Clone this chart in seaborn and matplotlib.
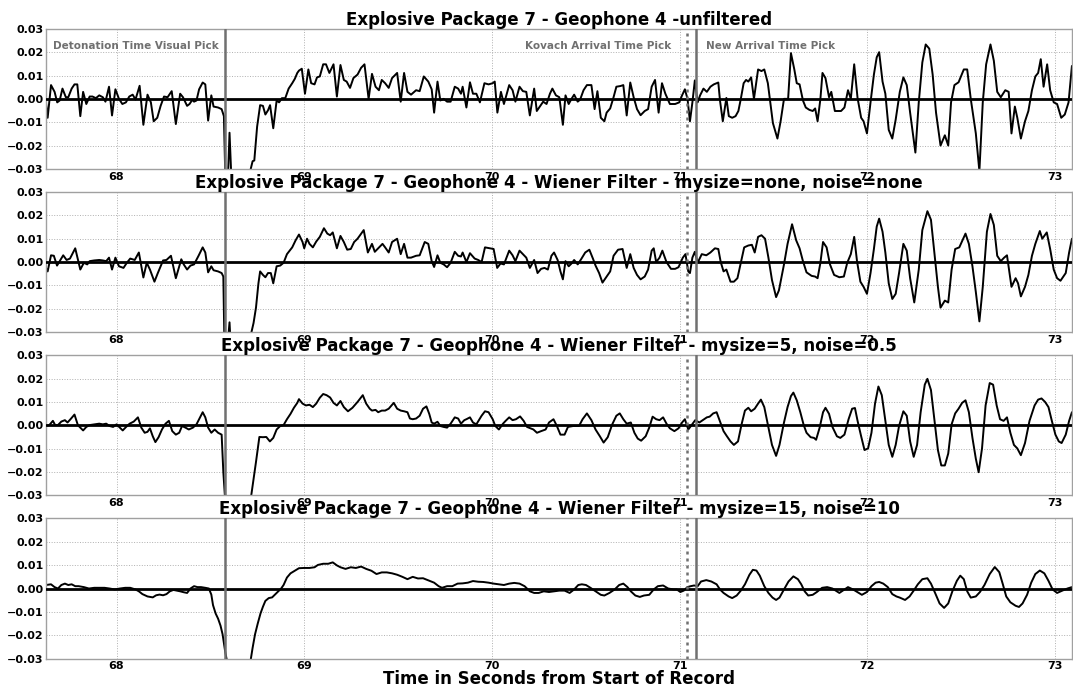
import numpy as np
import pandas as pd
import matplotlib
matplotlib.use("Agg")
import matplotlib.pyplot as plt
import seaborn as sns

# ---------------- data (time in s, amplitude in thousandths) ----------------
titles = [
    "Explosive Package 7 - Geophone 4 -unfiltered",
    "Explosive Package 7 - Geophone 4 - Wiener Filter - mysize=none, noise=none",
    "Explosive Package 7 - Geophone 4 - Wiener Filter - mysize=5, noise=0.5",
    "Explosive Package 7 - Geophone 4 - Wiener Filter - mysize=15, noise=10",
]
xlabel = "Time in Seconds from Start of Record"
pick_detonation = 68.579
pick_kovach = 71.037
pick_new = 71.088
pick_labels = ["Detonation Time Visual Pick", "Kovach Arrival Time Pick", "New Arrival Time Pick"]

t1 = [67.624, 67.633, 67.651, 67.670, 67.684, 67.697, 67.712, 67.730, 67.743, 67.761, 67.776, 67.791,
      67.807, 67.822, 67.839, 67.857, 67.872, 67.890, 67.908, 67.927, 67.941, 67.960, 67.976, 67.994,
      68.013, 68.031, 68.050, 68.068, 68.086, 68.101, 68.123, 68.143, 68.165, 68.183, 68.198, 68.217,
      68.235, 68.253, 68.272, 68.294, 68.316, 68.339, 68.354, 68.376, 68.389, 68.404, 68.413, 68.426,
      68.440, 68.459, 68.473, 68.488, 68.505, 68.517, 68.541, 68.560, 68.572, 68.580, 68.591, 68.602,
      68.615, 68.650, 68.690, 68.712, 68.725, 68.734, 68.749, 68.765, 68.780, 68.793, 68.807, 68.818,
      68.835, 68.853, 68.866, 68.881, 68.899, 68.917, 68.936, 68.950, 68.963, 68.972, 68.987, 69.004,
      69.022, 69.037, 69.055, 69.068, 69.083, 69.101, 69.116, 69.134, 69.156, 69.174, 69.193, 69.211,
      69.226, 69.244, 69.262, 69.284, 69.303, 69.321, 69.343, 69.361, 69.380, 69.398, 69.413, 69.431,
      69.450, 69.468, 69.495, 69.514, 69.532, 69.550, 69.569, 69.596, 69.615, 69.637, 69.661, 69.679,
      69.692, 69.710, 69.725, 69.743, 69.761, 69.780, 69.802, 69.820, 69.835, 69.844, 69.864, 69.883,
      69.899, 69.917, 69.936, 69.960, 69.982, 70.004, 70.015, 70.029, 70.048, 70.064, 70.092, 70.110,
      70.125, 70.147, 70.165, 70.183, 70.202, 70.225, 70.239, 70.258, 70.273, 70.291, 70.309, 70.322,
      70.341, 70.359, 70.378, 70.392, 70.409, 70.424, 70.438, 70.457, 70.470, 70.488, 70.506, 70.530,
      70.547, 70.562, 70.580, 70.599, 70.611, 70.630, 70.648, 70.663, 70.685, 70.700, 70.718, 70.737,
      70.755, 70.773, 70.792, 70.814, 70.832, 70.851, 70.869, 70.888, 70.906, 70.924, 70.948, 70.976,
      70.998, 71.013, 71.028, 71.042, 71.055, 71.068, 71.081, 71.096, 71.109, 71.127, 71.145, 71.164,
      71.182, 71.206, 71.215, 71.230, 71.249, 71.262, 71.280, 71.298, 71.313, 71.326, 71.341, 71.354,
      71.366, 71.381, 71.396, 71.418, 71.436, 71.451, 71.470, 71.483, 71.497, 71.521, 71.538, 71.556,
      71.578, 71.593, 71.611, 71.624, 71.639, 71.657, 71.672, 71.691, 71.709, 71.722, 71.735, 71.750,
      71.761, 71.777, 71.796, 71.808, 71.827, 71.860, 71.878, 71.897, 71.912, 71.930, 71.948, 71.967,
      71.980, 71.998, 72.017, 72.035, 72.050, 72.063, 72.081, 72.096, 72.114, 72.133, 72.151, 72.173,
      72.192, 72.210, 72.228, 72.256, 72.274, 72.293, 72.311, 72.330, 72.348, 72.366, 72.390, 72.413,
      72.431, 72.446, 72.464, 72.486, 72.514, 72.532, 72.551, 72.578, 72.597, 72.615, 72.633, 72.656,
      72.674, 72.692, 72.711, 72.735, 72.753, 72.768, 72.786, 72.799, 72.818, 72.840, 72.858, 72.877,
      72.895, 72.910, 72.924, 72.939, 72.958, 72.974, 72.993, 73.011, 73.033, 73.052, 73.072, 73.090]
a1 = [-1.5, -8.1, 5.9, 3.0, -1.5, -0.7, 4.4, 0.7, 0.7, 4.4, 6.2, 6.2,
      -7.4, 3.0, -2.2, 1.0, 1.0, 0.3, 1.5, 0.7, -1.2, 5.2, -7.1, 4.1,
      0.0, -2.2, -1.5, 1.0, 1.8, -0.3, 5.6, -11.1, 1.8, -1.5, -9.6, -8.1,
      -3.0, 1.0, 0.7, 3.3, -10.8, 2.2, 0.7, -3.0, -2.2, -0.4, -1.2, -0.7,
      4.1, 7.0, 6.2, -9.3, 1.5, -3.3, -3.7, -4.4, -7.4, -35.0, -40.0, -14.5,
      -40.0, -60.0, -50.0, -31.0, -26.7, -26.4, -11.9, -2.7, -3.0, -6.7, -4.9, -2.7,
      -12.6, -0.7, -1.5, 0.3, 0.3, 4.4, 6.7, 8.6, 11.1, 12.1, 12.9, 2.2,
      12.6, 6.7, 6.2, 9.2, 9.6, 14.8, 14.8, 11.1, 14.8, 1.0, 14.5, 8.1,
      7.4, 4.7, 8.9, 10.4, 13.3, 14.8, 0.0, 10.7, 5.2, 3.7, 8.1, 6.7,
      4.7, 8.9, 11.1, -1.2, 11.1, 3.0, 1.8, 3.7, 3.3, 9.6, 7.4, 4.1,
      -5.9, 7.4, -0.7, 0.0, -1.2, -1.2, 5.2, 4.4, 2.2, 5.2, -3.7, 7.1,
      2.2, 2.2, -1.5, 6.7, 6.2, 6.7, 7.4, -5.9, 3.0, -2.2, 5.9, 3.7,
      -1.2, 5.2, 3.3, 3.0, -7.1, 4.4, -5.2, -3.0, -1.2, -2.2, 2.2, 4.4,
      1.5, 0.7, -11.1, 1.5, -2.2, 0.0, 1.8, -1.2, -0.3, 3.7, 5.9, 5.9,
      -4.4, 3.3, -8.1, -9.6, -5.9, -4.1, 0.7, 5.2, 5.5, 5.9, -7.1, 7.0,
      0.7, -4.4, -7.0, -5.2, -4.4, 5.2, 8.1, -5.9, 6.7, 2.2, -2.2, -2.2,
      -1.5, 1.5, 4.1, 0.0, -9.6, -1.5, 7.9, -1.5, 1.5, 4.4, 3.0, 5.2,
      6.2, 7.0, -0.7, -9.6, 0.4, -7.4, -8.1, -7.4, -5.2, 0.0, 6.7, 8.1,
      7.4, 9.2, 0.0, 12.6, 11.9, 12.6, 6.7, -1.5, -10.4, -17.0, -9.6, 0.0,
      0.0, 19.6, 12.6, 6.7, 6.2, -0.7, -3.7, -4.7, -5.2, -4.1, -9.6, 0.0,
      11.1, 8.9, 0.7, 3.0, -5.2, -5.2, -3.7, 3.7, 0.0, 14.8, 0.3, -8.1,
      -9.6, -14.8, -1.5, 10.4, 17.8, 20.0, 7.4, 2.2, -13.3, -17.0, -8.9, 3.0,
      9.2, 5.9, -5.9, -23.0, -1.5, 15.6, 23.3, 21.5, 10.4, -5.9, -20.0, -15.6,
      -20.0, -1.5, 5.9, 7.1, 12.6, 12.6, 0.0, -14.8, -31.0, -1.5, 14.8, 23.3,
      16.3, 3.0, 0.7, 3.7, 3.0, -14.8, -3.3, -8.1, -17.0, -9.6, -5.2, 3.7,
      9.6, 11.1, 17.0, 5.2, 14.8, 3.7, -1.5, -2.2, -8.1, -6.7, -1.5, 14.1]

t2 = [67.624, 67.633, 67.651, 67.666, 67.683, 67.697, 67.716, 67.734, 67.752, 67.780, 67.794, 67.807,
      67.826, 67.844, 67.857, 67.881, 67.908, 67.927, 67.945, 67.960, 67.976, 67.994, 68.013, 68.037,
      68.055, 68.073, 68.097, 68.119, 68.143, 68.161, 68.178, 68.202, 68.220, 68.248, 68.266, 68.290,
      68.316, 68.345, 68.358, 68.376, 68.394, 68.413, 68.437, 68.459, 68.473, 68.488, 68.505, 68.517,
      68.541, 68.560, 68.569, 68.574, 68.587, 68.602, 68.611, 68.650, 68.690, 68.716, 68.730, 68.743,
      68.756, 68.765, 68.780, 68.793, 68.807, 68.822, 68.835, 68.853, 68.872, 68.890, 68.908, 68.936,
      68.954, 68.972, 68.991, 69.000, 69.015, 69.028, 69.046, 69.064, 69.083, 69.105, 69.123, 69.138,
      69.152, 69.174, 69.193, 69.211, 69.229, 69.248, 69.266, 69.284, 69.317, 69.339, 69.361, 69.376,
      69.394, 69.417, 69.431, 69.450, 69.468, 69.495, 69.514, 69.532, 69.550, 69.569, 69.596, 69.615,
      69.642, 69.661, 69.679, 69.692, 69.710, 69.725, 69.743, 69.761, 69.780, 69.802, 69.820, 69.835,
      69.844, 69.864, 69.883, 69.908, 69.927, 69.945, 69.963, 69.991, 70.009, 70.028, 70.046, 70.064,
      70.092, 70.110, 70.125, 70.147, 70.165, 70.183, 70.202, 70.225, 70.243, 70.262, 70.280, 70.298,
      70.317, 70.331, 70.350, 70.365, 70.378, 70.392, 70.409, 70.424, 70.438, 70.457, 70.475, 70.497,
      70.519, 70.538, 70.552, 70.571, 70.589, 70.611, 70.630, 70.648, 70.672, 70.696, 70.718, 70.737,
      70.755, 70.773, 70.792, 70.814, 70.832, 70.851, 70.862, 70.875, 70.893, 70.908, 70.930, 70.954,
      70.976, 70.994, 71.017, 71.031, 71.046, 71.055, 71.068, 71.081, 71.096, 71.118, 71.142, 71.164,
      71.188, 71.206, 71.219, 71.234, 71.249, 71.271, 71.289, 71.308, 71.330, 71.344, 71.366, 71.385,
      71.400, 71.418, 71.436, 71.455, 71.473, 71.492, 71.514, 71.529, 71.556, 71.575, 71.599, 71.621,
      71.639, 71.657, 71.676, 71.703, 71.722, 71.735, 71.750, 71.764, 71.783, 71.801, 71.823, 71.851,
      71.875, 71.893, 71.912, 71.930, 71.945, 71.963, 71.980, 71.998, 72.017, 72.035, 72.050, 72.063,
      72.081, 72.096, 72.114, 72.133, 72.151, 72.169, 72.192, 72.210, 72.228, 72.250, 72.274, 72.293,
      72.320, 72.339, 72.357, 72.376, 72.390, 72.413, 72.431, 72.449, 72.468, 72.490, 72.523, 72.541,
      72.560, 72.578, 72.597, 72.615, 72.637, 72.656, 72.674, 72.692, 72.711, 72.729, 72.744, 72.768,
      72.790, 72.803, 72.818, 72.840, 72.858, 72.877, 72.895, 72.919, 72.932, 72.956, 72.974, 72.993,
      73.011, 73.029, 73.057, 73.075, 73.090]
a2 = [-2.5, -4.0, 2.9, 2.7, -1.5, 0.4, 2.9, 0.9, 1.5, 5.9, 1.2, -3.2,
      -0.3, -1.0, 0.4, 0.7, 0.9, 0.7, 0.4, 1.9, -3.2, 1.9, -1.8, -2.5,
      -0.3, 1.5, 0.9, 4.1, -6.6, -0.3, -3.2, -8.4, -4.7, 0.7, 0.9, 2.7,
      -6.9, 1.2, -1.0, -3.2, -1.5, -1.0, 2.7, 6.3, 4.1, -4.4, -1.8, -3.5,
      -4.0, -4.7, -6.2, -31.0, -40.0, -25.8, -40.0, -60.0, -50.0, -31.0, -26.1, -19.5,
      -9.1, -4.0, -5.5, -6.5, -4.7, -4.7, -9.1, -1.8, -1.5, -0.3, 3.4, 6.3,
      9.3, 11.8, 8.6, 5.9, 10.0, 7.8, 6.3, 8.8, 10.8, 14.5, 12.2, 11.5,
      12.7, 5.9, 11.2, 8.6, 5.3, 5.6, 8.6, 10.0, 13.7, 4.1, 7.8, 4.4,
      5.9, 7.8, 6.3, 4.1, 8.6, 10.0, 3.4, 7.8, 1.9, 1.9, 2.7, 2.9,
      8.6, 7.8, 0.4, -2.1, 2.9, -0.3, -1.0, -2.2, -0.3, 4.4, 2.7, 2.4,
      4.1, 0.0, 3.8, 1.5, 0.9, 0.0, 6.3, 5.9, 5.6, -2.5, -0.6, -1.0,
      4.9, 2.9, 0.4, 4.9, 3.4, 1.9, -2.5, 0.9, -4.7, -2.9, -2.5, -3.2,
      2.7, 4.1, 0.9, -4.0, -7.4, 0.4, -1.8, -0.6, 0.9, -1.0, 1.2, 4.1,
      5.3, 1.5, -1.5, -4.7, -8.8, -6.2, -4.0, 2.7, 5.3, 5.6, -2.5, 3.4,
      -2.5, -5.5, -7.4, -6.2, -3.2, 4.9, 5.9, 0.0, 1.9, 4.9, 0.0, -2.9,
      -2.9, -2.2, 1.9, 3.4, -4.0, -4.7, 1.9, 4.4, -0.3, 3.4, 2.9, 4.1,
      5.9, 5.6, 0.0, -4.0, -3.2, -8.4, -8.4, -6.9, 1.2, 6.3, 7.1, 7.4,
      4.1, 10.8, 11.5, 10.0, 1.9, -7.7, -15.0, -12.1, -1.0, 7.8, 16.2, 9.3,
      5.9, 0.4, -4.4, -5.9, -6.2, -6.9, -0.3, 8.6, 6.3, -1.0, -5.5, -6.5,
      -6.2, -0.3, 3.4, 10.8, 0.4, -8.4, -10.6, -13.6, -4.7, 5.6, 15.2, 18.6,
      13.0, 4.1, -9.1, -15.8, -13.6, -4.7, 7.8, 4.9, -6.9, -17.3, -3.2, 13.7,
      21.8, 18.1, 4.1, -10.6, -19.5, -16.5, -17.3, -3.2, 5.6, 6.3, 12.2, 7.8,
      -1.8, -12.8, -25.4, -10.6, 13.0, 20.6, 15.9, 2.7, 0.4, 1.9, 2.9, -10.6,
      -6.9, -9.1, -14.7, -10.6, -5.5, 2.7, 7.8, 13.3, 10.0, 12.7, 5.6, -3.2,
      -6.9, -8.0, -4.7, 4.1, 10.0]

t3 = [67.624, 67.642, 67.661, 67.673, 67.688, 67.706, 67.725, 67.739, 67.758, 67.776, 67.794, 67.807,
      67.822, 67.839, 67.857, 67.881, 67.908, 67.927, 67.945, 67.963, 67.982, 68.000, 68.018, 68.033,
      68.051, 68.070, 68.092, 68.114, 68.132, 68.150, 68.165, 68.178, 68.193, 68.207, 68.224, 68.242,
      68.261, 68.279, 68.297, 68.316, 68.334, 68.349, 68.367, 68.385, 68.407, 68.426, 68.440, 68.459,
      68.473, 68.488, 68.505, 68.523, 68.541, 68.560, 68.569, 68.578, 68.650, 68.690, 68.716, 68.730,
      68.743, 68.761, 68.780, 68.798, 68.817, 68.835, 68.853, 68.872, 68.890, 68.908, 68.927, 68.945,
      68.963, 68.972, 68.991, 69.009, 69.028, 69.046, 69.064, 69.083, 69.101, 69.119, 69.138, 69.156,
      69.174, 69.193, 69.211, 69.233, 69.257, 69.284, 69.312, 69.330, 69.349, 69.361, 69.380, 69.394,
      69.413, 69.431, 69.450, 69.477, 69.495, 69.514, 69.532, 69.550, 69.563, 69.578, 69.596, 69.615,
      69.633, 69.651, 69.666, 69.679, 69.692, 69.710, 69.725, 69.743, 69.761, 69.780, 69.802, 69.820,
      69.835, 69.853, 69.864, 69.883, 69.899, 69.917, 69.945, 69.963, 69.982, 70.004, 70.018, 70.037,
      70.059, 70.073, 70.092, 70.110, 70.128, 70.150, 70.169, 70.187, 70.221, 70.240, 70.262, 70.286,
      70.304, 70.328, 70.346, 70.365, 70.387, 70.405, 70.433, 70.464, 70.483, 70.506, 70.530, 70.552,
      70.575, 70.595, 70.617, 70.641, 70.663, 70.681, 70.700, 70.718, 70.740, 70.759, 70.777, 70.795,
      70.819, 70.838, 70.856, 70.875, 70.893, 70.912, 70.930, 70.948, 70.972, 70.994, 71.013, 71.028,
      71.046, 71.064, 71.083, 71.105, 71.123, 71.145, 71.160, 71.179, 71.197, 71.215, 71.234, 71.252,
      71.271, 71.289, 71.311, 71.330, 71.348, 71.366, 71.381, 71.400, 71.418, 71.433, 71.451, 71.473,
      71.492, 71.514, 71.532, 71.556, 71.575, 71.593, 71.606, 71.624, 71.643, 71.661, 71.676, 71.698,
      71.716, 71.727, 71.746, 71.764, 71.777, 71.796, 71.814, 71.838, 71.856, 71.878, 71.900, 71.919,
      71.934, 71.948, 71.967, 71.985, 72.004, 72.022, 72.041, 72.059, 72.077, 72.096, 72.114, 72.133,
      72.151, 72.169, 72.192, 72.210, 72.228, 72.247, 72.265, 72.284, 72.306, 72.320, 72.339, 72.357,
      72.376, 72.394, 72.413, 72.431, 72.449, 72.468, 72.486, 72.505, 72.523, 72.541, 72.560, 72.578,
      72.593, 72.611, 72.630, 72.652, 72.670, 72.689, 72.707, 72.726, 72.744, 72.762, 72.781, 72.799,
      72.818, 72.840, 72.864, 72.891, 72.910, 72.928, 72.947, 72.965, 72.983, 73.002, 73.020, 73.035,
      73.057, 73.075, 73.090]
a3 = [-0.3, 0.1, 1.9, 0.1, 0.1, 1.6, 2.2, 1.2, 2.9, 4.6, 0.1, -1.0,
      -2.2, -0.7, 0.1, 0.4, 0.7, 0.4, 0.7, -0.3, -0.7, 0.4, -1.0, -2.2,
      -0.7, 0.7, 1.6, 3.4, -1.0, -3.2, -2.8, -1.3, -4.7, -7.2, -5.1, -1.8,
      0.7, 1.9, -2.5, -4.0, -3.2, -0.3, -1.0, -1.8, -1.0, 0.4, 2.6, 5.6,
      3.4, -1.0, -3.2, -1.8, -3.2, -4.0, -20.0, -31.0, -60.0, -50.0, -31.0, -23.1,
      -15.7, -5.0, -5.1, -5.0, -6.9, -5.4, -1.8, -0.3, 0.1, 2.6, 4.9, 7.5,
      9.6, 11.2, 9.3, 8.5, 8.8, 7.8, 9.3, 11.8, 13.4, 12.9, 11.9, 9.6,
      8.5, 10.4, 7.8, 6.0, 7.5, 10.0, 12.9, 9.3, 7.1, 6.3, 6.6, 5.6,
      6.3, 6.3, 7.1, 9.6, 7.1, 6.3, 6.0, 5.6, 2.9, 2.6, 2.9, 4.1,
      7.1, 8.1, 4.9, 1.2, 0.7, 1.5, -0.3, -0.7, -1.0, 0.7, 3.4, 2.9,
      0.7, 2.2, 2.6, 3.4, 1.2, 0.4, 4.1, 6.0, 5.6, 2.6, -0.3, -1.8,
      0.7, 1.9, 3.4, 2.2, 2.6, 3.8, 1.9, -0.7, -1.8, -3.2, -2.5, -1.8,
      1.2, 2.6, -0.3, -4.0, -4.0, -0.7, -0.3, -0.3, 2.6, 5.1, 2.2, -1.8,
      -4.7, -7.4, -5.1, 0.4, 4.1, 5.1, 2.6, 0.7, 1.2, -3.2, -5.7, -6.6,
      -4.7, -1.0, 3.7, 2.6, 2.2, 3.4, 0.7, -1.3, -2.5, -1.3, 1.2, 2.6,
      -1.8, 0.1, 2.2, 1.2, 2.2, 3.4, 3.7, 5.1, 5.6, 1.6, -2.5, -4.7,
      -6.9, -8.4, -6.9, 0.4, 6.3, 7.5, 6.0, 7.1, 9.3, 11.0, 7.8, -1.0,
      -8.4, -13.1, -8.4, 1.2, 7.8, 12.5, 14.0, 10.7, 5.6, 0.1, -3.2, -5.1,
      -5.4, -6.2, -1.0, 5.6, 7.5, 4.9, -0.7, -4.7, -5.4, -4.0, 2.6, 7.1,
      7.4, 1.9, -4.7, -10.6, -9.9, -3.2, 9.3, 16.6, 12.9, 1.9, -8.4, -13.5,
      -8.4, -0.3, 6.0, 4.1, -6.9, -13.5, -8.4, 5.6, 17.4, 19.9, 15.1, 2.6,
      -10.6, -17.2, -17.2, -12.1, 0.4, 5.1, 7.1, 9.6, 10.7, 5.6, -5.4, -14.3,
      -20.1, -9.9, 8.5, 18.1, 17.4, 8.5, 2.6, 1.9, 3.4, -3.2, -8.4, -9.9,
      -12.8, -7.6, 1.9, 8.5, 11.0, 11.5, 10.0, 7.8, 1.9, -4.0, -6.9, -7.6,
      -4.0, 1.9, 5.6]

t4 = [67.624, 67.651, 67.670, 67.688, 67.706, 67.725, 67.743, 67.761, 67.780, 67.798, 67.826, 67.853,
      67.881, 67.908, 67.936, 67.963, 67.991, 68.018, 68.046, 68.073, 68.101, 68.119, 68.138, 68.165,
      68.193, 68.211, 68.229, 68.248, 68.266, 68.284, 68.303, 68.321, 68.339, 68.358, 68.376, 68.394,
      68.413, 68.431, 68.450, 68.473, 68.492, 68.505, 68.514, 68.528, 68.541, 68.554, 68.565, 68.572,
      68.580, 68.591, 68.650, 68.690, 68.712, 68.725, 68.738, 68.752, 68.767, 68.780, 68.793, 68.811,
      68.829, 68.844, 68.862, 68.877, 68.890, 68.908, 68.927, 68.950, 68.972, 69.000, 69.028, 69.055,
      69.073, 69.101, 69.128, 69.152, 69.174, 69.193, 69.220, 69.248, 69.275, 69.303, 69.330, 69.358,
      69.385, 69.413, 69.440, 69.468, 69.495, 69.523, 69.550, 69.578, 69.606, 69.633, 69.661, 69.692,
      69.716, 69.734, 69.761, 69.789, 69.817, 69.844, 69.872, 69.899, 69.927, 69.954, 69.982, 70.009,
      70.037, 70.064, 70.092, 70.119, 70.147, 70.174, 70.202, 70.225, 70.249, 70.276, 70.304, 70.331,
      70.359, 70.387, 70.414, 70.438, 70.460, 70.479, 70.501, 70.525, 70.552, 70.580, 70.599, 70.626,
      70.654, 70.678, 70.700, 70.722, 70.740, 70.764, 70.788, 70.810, 70.838, 70.862, 70.884, 70.912,
      70.939, 70.967, 70.985, 71.004, 71.022, 71.041, 71.059, 71.077, 71.096, 71.114, 71.142, 71.169,
      71.197, 71.215, 71.234, 71.261, 71.280, 71.304, 71.326, 71.348, 71.372, 71.390, 71.409, 71.427,
      71.451, 71.473, 71.495, 71.514, 71.532, 71.556, 71.580, 71.606, 71.630, 71.648, 71.666, 71.685,
      71.709, 71.731, 71.759, 71.786, 71.814, 71.832, 71.851, 71.878, 71.897, 71.924, 71.948, 71.971,
      71.998, 72.022, 72.044, 72.063, 72.085, 72.109, 72.133, 72.155, 72.173, 72.201, 72.225, 72.247,
      72.269, 72.293, 72.320, 72.339, 72.361, 72.385, 72.409, 72.431, 72.453, 72.477, 72.495, 72.514,
      72.532, 72.551, 72.578, 72.600, 72.624, 72.652, 72.679, 72.703, 72.722, 72.740, 72.762, 72.790,
      72.808, 72.827, 72.851, 72.873, 72.895, 72.919, 72.943, 72.965, 72.987, 73.011, 73.039, 73.066,
      73.090]
a4 = [1.5, 1.8, 0.6, 0.0, 1.5, 2.1, 1.5, 1.8, 1.0, 1.0, 0.6, 0.0,
      0.3, 0.3, 0.3, 0.0, -0.4, 0.0, 0.3, 0.3, -0.4, -1.2, -2.4, -3.4,
      -3.8, -2.9, -2.6, -2.9, -2.4, -1.2, -0.6, -0.9, -1.2, -1.6, -1.9, 0.0,
      1.0, 0.6, 0.6, 0.3, 0.0, -2.6, -7.1, -10.7, -12.9, -15.9, -19.6, -23.2,
      -27.6, -32.0, -60.0, -50.0, -32.0, -25.4, -19.6, -15.1, -10.7, -7.8, -5.3, -4.1,
      -3.8, -2.6, -1.2, 0.0, 1.5, 4.7, 6.5, 7.6, 8.7, 8.8, 8.8, 9.1,
      10.1, 10.6, 10.6, 11.2, 9.9, 9.1, 8.4, 9.1, 8.8, 9.4, 8.4, 7.6,
      6.2, 6.9, 6.9, 6.5, 5.9, 5.0, 4.0, 5.0, 4.3, 4.4, 3.5, 2.5,
      1.0, 0.3, 1.0, 1.0, 2.1, 2.2, 2.5, 3.2, 2.9, 2.8, 2.5, 2.1,
      1.8, 1.5, 2.1, 2.4, 2.1, 1.0, -1.2, -1.9, -1.9, -1.2, -1.5, -1.2,
      -0.9, -0.9, -1.9, -0.4, 1.5, 1.8, 1.5, 0.3, -1.2, -2.7, -3.0, -1.9,
      -0.4, 1.5, 2.1, 0.6, -1.2, -3.0, -3.6, -3.0, -2.7, -0.4, 1.0, 1.3,
      0.0, -0.4, -0.4, -1.5, -0.9, 0.6, 1.0, 1.3, 1.0, 3.0, 3.6, 3.0,
      1.8, -0.4, -1.9, -3.4, -4.1, -3.0, -0.9, 1.8, 5.9, 8.0, 7.7, 5.5,
      1.0, -1.9, -3.9, -4.9, -3.9, -0.4, 3.0, 5.2, 4.0, 1.8, -1.2, -3.0,
      -2.7, -1.5, 0.3, 0.6, 0.0, -0.9, -1.9, -0.4, 0.6, -0.4, -1.6, -2.7,
      -1.5, 1.0, 2.5, 2.8, 2.1, 0.6, -2.4, -3.4, -3.9, -4.9, -3.4, -0.9,
      1.8, 4.0, 4.4, 2.1, -1.9, -6.4, -8.3, -6.4, -1.2, 3.3, 5.5, 4.0,
      -1.2, -3.9, -3.4, -1.5, 1.5, 6.2, 9.2, 7.0, 1.8, -3.4, -5.9, -7.4,
      -7.9, -6.4, -2.7, 2.5, 6.2, 7.7, 6.5, 3.3, -0.4, -1.9, -0.9, 0.0,
      0.6]

times = [t1, t2, t3, t4]
amps = [a1, a2, a3, a4]

# ---------------- styling ----------------
sns.set_style("whitegrid", {
    "grid.color": "#b0b0b0",
    "grid.linestyle": ":",
    "axes.edgecolor": "#a0a0a0",
    "text.color": "black",
    "axes.labelcolor": "black",
    "xtick.color": "black",
    "ytick.color": "black",
})
plt.rcParams["font.family"] = ["DejaVu Sans"]
plt.rcParams["text.color"] = "black"
plt.rcParams["axes.titlecolor"] = "black"

fig, axes = plt.subplots(4, 1, figsize=(10.73, 6.86), dpi=100)
fig.subplots_adjust(left=0.043, right=0.999, top=0.958, bottom=0.040, hspace=0.165)

for i, ax in enumerate(axes):
    df = pd.DataFrame({"t": times[i], "a": np.array(amps[i]) / 1000.0})
    sns.lineplot(data=df, x="t", y="a", ax=ax, color="black", linewidth=1.4,
                 estimator=None, sort=False)
    ax.axhline(0, color="black", linewidth=2.0, zorder=3)
    ax.axvline(pick_detonation, color="#707070", linewidth=1.8, zorder=4)
    ax.axvline(pick_kovach, color="#707070", linewidth=1.8, linestyle=(0, (1.2, 1.6)), zorder=4)
    ax.axvline(pick_new, color="#707070", linewidth=1.8, zorder=4)
    ax.set_xlim(67.625, 73.09)
    ax.set_ylim(-0.03, 0.03)
    ax.set_yticks([-0.03, -0.02, -0.01, 0.0, 0.01, 0.02, 0.03])
    ax.set_xticks([68, 69, 70, 71, 72, 73])
    ax.set_xlabel("")
    ax.set_ylabel("")
    ax.set_title(titles[i], fontsize=12, fontweight="bold", pad=3, color="black")
    ax.tick_params(axis="both", length=0, labelsize=8, pad=2, colors="black")
    for lab in ax.get_xticklabels() + ax.get_yticklabels():
        lab.set_fontweight("bold")
    ax.grid(True, linestyle=":", linewidth=0.7, color="#b0b0b0")
    for s in ax.spines.values():
        s.set_linewidth(1.0)
        s.set_color("#a0a0a0")

ax0 = axes[0]
ax0.text(pick_detonation - 0.037, 0.0225, pick_labels[0], ha="right", va="center",
         fontsize=7.5, fontweight="bold", color="#707070")
ax0.text(pick_kovach - 0.079, 0.0225, pick_labels[1], ha="right", va="center",
         fontsize=7.5, fontweight="bold", color="#707070")
ax0.text(pick_new + 0.05, 0.0225, pick_labels[2], ha="left", va="center",
         fontsize=7.5, fontweight="bold", color="#707070")

axes[-1].set_xlabel(xlabel, fontsize=12, fontweight="bold", labelpad=-1, color="black")

fig.savefig("out.png", dpi=100)
